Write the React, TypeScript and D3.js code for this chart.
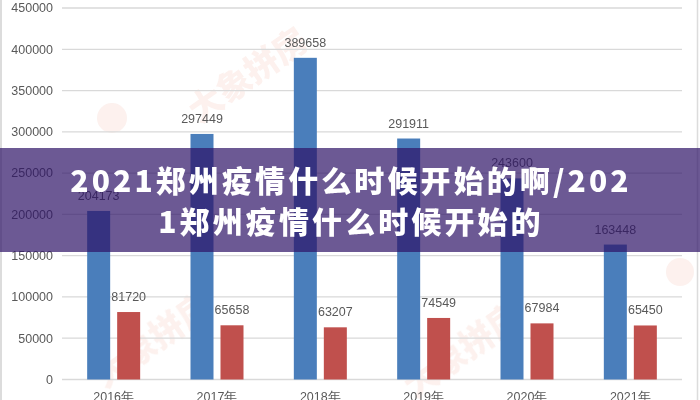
import React from "react";
import * as d3 from "d3";

const categories = ["2016年", "2017年", "2018年", "2019年", "2020年", "2021年"];
const seriesA = [204173, 297449, 389658, 291911, 243600, 163448];
const seriesB = [81720, 65658, 63207, 74549, 67984, 65450];
const yTicks = [0, 50000, 100000, 150000, 200000, 250000, 300000, 350000, 400000, 450000];
const titleLines = ["2021郑州疫情什么时候开始的啊/202", "1郑州疫情什么时候开始的"];
const watermarkText = "大象拼房";

export default function App() {
  const W = 700, H = 400;
  const left = 62, right = 682, top = 8, bottom = 379.5;
  const x = d3.scaleBand<string>().domain(categories).range([left, right]);
  const y = d3.scaleLinear().domain([0, 450000]).range([bottom, top]);
  const barW = 23, gap = 7;
  const font = "'Liberation Sans', Arial, sans-serif";
  const labelColor = "#595959";

  return (
    <svg width={W} height={H} style={{ position: "absolute", left: 0, top: 0, display: "block" }}>
      <rect x={0} y={0} width={W} height={H} fill="#ffffff" />
      {/* watermarks */}
      <g fill="#e0623f" opacity={0.09} fontFamily="'Noto Sans CJK SC', sans-serif" fontWeight={900}>
        <text x={255} y={85} fontSize={34} textAnchor="middle" transform="rotate(-35 255 85)">{watermarkText}</text>
        <circle cx={112} cy={118} r={15} />
        <text x={160} y={350} fontSize={34} textAnchor="middle" transform="rotate(-35 160 350)">{watermarkText}</text>
        <text x={470} y={360} fontSize={34} textAnchor="middle" transform="rotate(-35 470 360)">{watermarkText}</text>
        <circle cx={680} cy={272} r={14} />
      </g>
      {/* gridlines */}
      {yTicks.map((t) => (
        <line key={t} x1={left} x2={right} y1={y(t)} y2={y(t)} stroke="#d9d9d9" strokeWidth={1.3} />
      ))}
      {/* y labels */}
      {yTicks.map((t) => (
        <text key={"l" + t} x={53} y={y(t)} dy="0.35em" textAnchor="end" fontSize={12.5} fill={labelColor} fontFamily={font}>
          {t}
        </text>
      ))}
      {/* bars */}
      {categories.map((c, i) => {
        const cx = (x(c) as number) + x.bandwidth() / 2;
        const ax = cx - gap / 2 - barW;
        const bx = cx + gap / 2;
        return (
          <g key={c}>
            <rect x={ax} y={y(seriesA[i])} width={barW} height={bottom - y(seriesA[i])} fill="#4a7ebb" />
            <rect x={bx} y={y(seriesB[i])} width={barW} height={bottom - y(seriesB[i])} fill="#c0504d" />
            <text x={ax + barW / 2} y={y(seriesA[i]) - 11} textAnchor="middle" fontSize={12.5} fill={labelColor} fontFamily={font}>
              {seriesA[i]}
            </text>
            <text x={bx + barW / 2} y={y(seriesB[i]) - 11} textAnchor="middle" fontSize={12.5} fill={labelColor} fontFamily={font}>
              {seriesB[i]}
            </text>
            <text x={cx} y={397} dy="0.35em" textAnchor="middle" fontSize={12.5} fill={labelColor} fontFamily={font}>
              {c}
            </text>
          </g>
        );
      })}
      {/* borders */}
      <line x1={1} x2={1} y1={0} y2={H} stroke="#dcdcdc" strokeWidth={2} />
      <line x1={697.5} x2={697.5} y1={0} y2={H} stroke="#dcdcdc" strokeWidth={1.5} />
      {/* banner */}
      <rect x={0} y={148} width={W} height={104} fill="rgb(46,19,102)" fillOpacity={0.7} />
      {titleLines.map((l, i) => (
        <text
          key={i}
          x={351}
          y={192 + i * 41}
          textAnchor="middle"
          fontSize={30}
          fontWeight={900}
          fill="#ffffff"
          letterSpacing={3.1}
          fontFamily="'Noto Sans CJK SC', sans-serif"
        >
          {l}
        </text>
      ))}
    </svg>
  );
}
